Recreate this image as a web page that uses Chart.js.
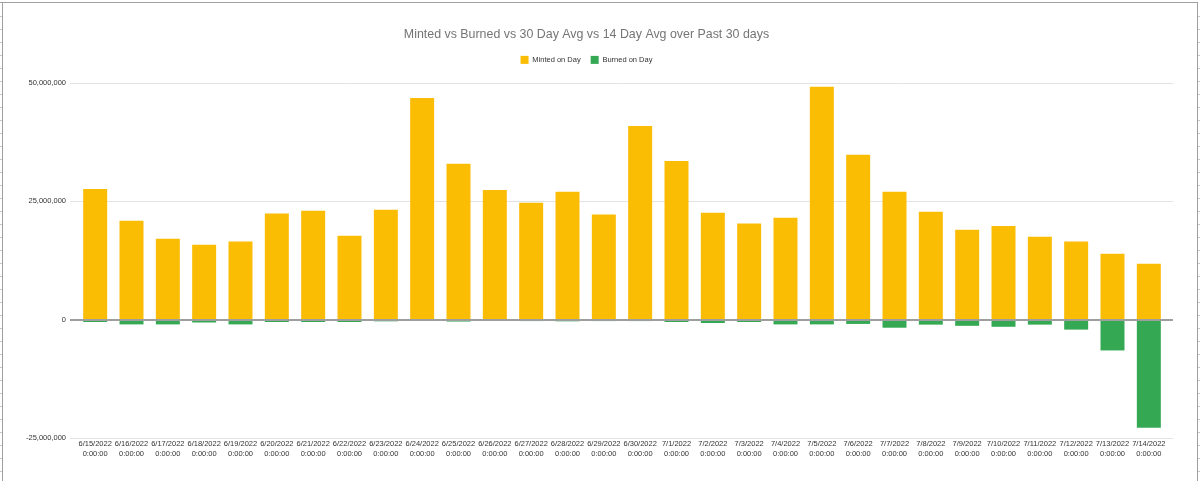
<!DOCTYPE html>
<html>
<head>
<meta charset="utf-8">
<title>Minted vs Burned</title>
<script src="https://cdn.jsdelivr.net/npm/chart.js@4/dist/chart.umd.min.js"></script>
<style>
  html, body { margin: 0; padding: 0; background: #fff; }
  #wrap { position: relative; width: 1200px; height: 481px; overflow: hidden; }
  #chart { position: absolute; left: 0; top: 0; }
  /* sheet frame around the embedded chart */
  .frame-top { position: absolute; left: 0; top: 2px; width: 1198px; height: 1px; background: #a0a0a0; }
  .frame-left { position: absolute; left: 2px; top: 2px; width: 1px; height: 479px; background: #a0a0a0; }
  .frame-right { position: absolute; left: 1197px; top: 2px; width: 1px; height: 479px; background: #a0a0a0; }
  .ticks-left { position: absolute; left: 0; top: 4px; width: 2px; height: 477px;
    background: repeating-linear-gradient(to bottom, transparent 0 12px, #c8c8c8 12px 13px); }
  .ticks-right { position: absolute; left: 1198px; top: 4px; width: 2px; height: 477px;
    background: repeating-linear-gradient(to bottom, transparent 0 12px, #c8c8c8 12px 13px); }
</style>
</head>
<body>
<div id="wrap">
  <canvas id="chart" width="1200" height="481"></canvas>
  <div class="frame-top"></div>
  <div class="frame-left"></div>
  <div class="frame-right"></div>
  <div class="ticks-left"></div>
  <div class="ticks-right"></div>
</div>
<script>
// Data
const dates = [
  '6/15/2022', '6/16/2022', '6/17/2022', '6/18/2022', '6/19/2022', '6/20/2022',
  '6/21/2022', '6/22/2022', '6/23/2022', '6/24/2022', '6/25/2022', '6/26/2022',
  '6/27/2022', '6/28/2022', '6/29/2022', '6/30/2022', '7/1/2022', '7/2/2022',
  '7/3/2022', '7/4/2022', '7/5/2022', '7/6/2022', '7/7/2022', '7/8/2022',
  '7/9/2022', '7/10/2022', '7/11/2022', '7/12/2022', '7/13/2022', '7/14/2022'
];
const timeLabel = '0:00:00';

const mintedOnDay = [
  27600000, 20900000, 17100000, 15800000, 16500000, 22400000,
  23000000, 17700000, 23200000, 46800000, 32900000, 27400000,
  24700000, 27000000, 22200000, 40900000, 33500000, 22600000,
  20300000, 21500000, 49200000, 34800000, 27000000, 22800000,
  19000000, 19800000, 17500000, 16500000, 13900000, 11800000
];

const burnedOnDay = [
  -500000, -1000000, -1000000, -600000, -1000000, -500000,
  -500000, -500000, -350000, -200000, -400000, -150000,
  -300000, -350000, -300000, -300000, -500000, -700000,
  -500000, -1000000, -1000000, -900000, -1700000, -1050000,
  -1300000, -1500000, -1050000, -2100000, -6500000, -22800000
];

const yTicks = [-25000000, 0, 25000000, 50000000];

const fontFamily = '"Liberation Sans", Arial, sans-serif';

// Gridlines a little wider than the bar area, like the sheets chart
const sheetGrid = {
  id: 'sheetGrid',
  beforeDatasetsDraw(chart) {
    const { ctx, chartArea, scales } = chart;
    ctx.save();
    ctx.strokeStyle = '#e3e3e3';
    ctx.lineWidth = 1;
    yTicks.filter(v => v !== 0).forEach(v => {
      const y = Math.round(scales.y.getPixelForValue(v)) + 0.5;
      ctx.beginPath();
      ctx.moveTo(chartArea.left - 7, y);
      ctx.lineTo(chartArea.right + 6, y);
      ctx.stroke();
    });
    ctx.restore();
  },
  afterDatasetsDraw(chart) {
    const { ctx, chartArea, scales } = chart;
    const y = Math.round(scales.y.getPixelForValue(0));
    ctx.save();
    ctx.strokeStyle = '#9e9e9e';
    ctx.lineWidth = 2;
    ctx.beginPath();
    ctx.moveTo(chartArea.left - 7, y);
    ctx.lineTo(chartArea.right + 6, y);
    ctx.stroke();
    ctx.restore();
  }
};

// Extra room under the legend
const legendMargin = {
  id: 'legendMargin',
  beforeInit(chart) {
    const fit = chart.legend.fit;
    chart.legend.fit = function () {
      fit.bind(chart.legend)();
      this.height += 9;
    };
  }
};

const ctx = document.getElementById('chart').getContext('2d');

new Chart(ctx, {
  type: 'bar',
  data: {
    labels: dates.map(d => [d, timeLabel]),
    datasets: [
      {
        label: 'Minted on Day',
        data: mintedOnDay,
        backgroundColor: '#fbbc04',
        borderWidth: 0
      },
      {
        label: 'Burned on Day',
        data: burnedOnDay,
        backgroundColor: '#34a853',
        borderWidth: 0
      }
    ]
  },
  options: {
    responsive: false,
    animation: false,
    layout: {
      padding: { top: 27, left: 6, right: 33, bottom: 21 }
    },
    datasets: {
      bar: { categoryPercentage: 1, barPercentage: 0.66 }
    },
    plugins: {
      title: {
        display: true,
        text: 'Minted vs Burned vs 30 Day Avg vs 14 Day Avg over Past 30 days',
        color: '#757575',
        font: { family: fontFamily, size: 12.4, weight: 'normal' },
        padding: { top: 0, bottom: 4 }
      },
      legend: {
        display: true,
        labels: {
          boxWidth: 8,
          boxHeight: 8,
          color: '#333',
          padding: 10,
          font: { family: fontFamily, size: 7.5 }
        }
      },
      tooltip: { enabled: false }
    },
    scales: {
      x: {
        stacked: true,
        grid: { display: false, drawTicks: false },
        border: { display: false },
        ticks: {
          color: '#333',
          maxRotation: 0,
          autoSkip: false,
          padding: 1,
          font: { family: fontFamily, size: 7.5, lineHeight: 1.33 }
        }
      },
      y: {
        stacked: true,
        min: -25000000,
        max: 50000000,
        afterBuildTicks: axis => {
          axis.ticks = yTicks.map(v => ({ value: v }));
        },
        afterFit: axis => {
          axis.width = 71;
        },
        border: { display: false },
        grid: { display: false, drawTicks: false },
        ticks: {
          color: '#333',
          padding: 11,
          font: { family: fontFamily, size: 7.5 },
          callback: v => v.toLocaleString('en-US')
        }
      }
    }
  },
  plugins: [sheetGrid, legendMargin]
});
</script>
</body>
</html>
